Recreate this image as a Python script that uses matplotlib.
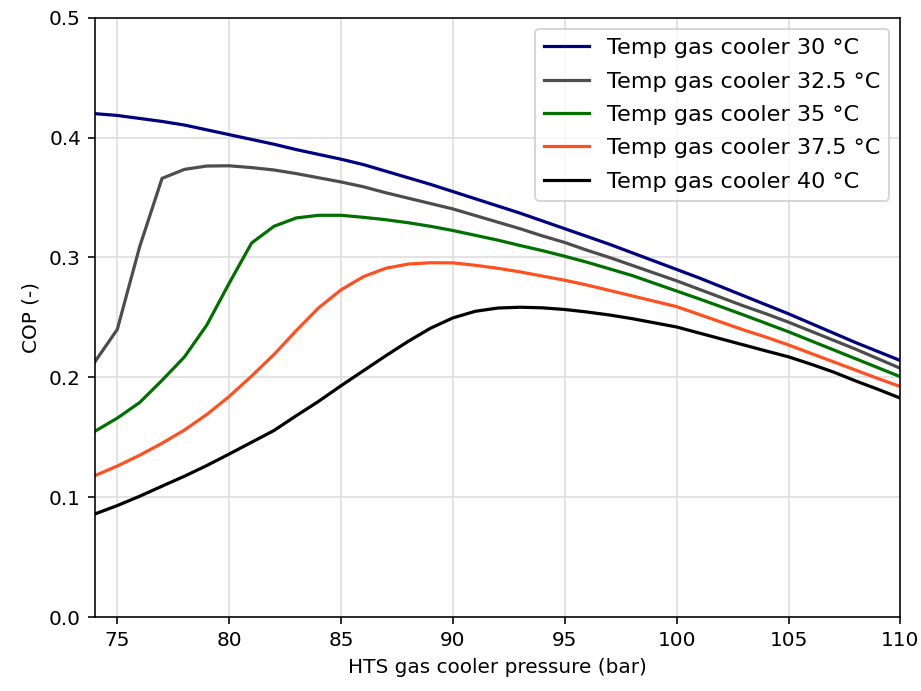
import matplotlib
matplotlib.use("Agg")
import matplotlib.pyplot as plt

pressure = list(range(74, 111))

cop_30 = [0.420, 0.4185, 0.416, 0.4135, 0.4105, 0.4065, 0.4025, 0.3985, 0.3945, 0.390,
          0.386, 0.382, 0.3775, 0.372, 0.3665, 0.361, 0.355, 0.349, 0.343, 0.337,
          0.3305, 0.324, 0.3175, 0.311, 0.304, 0.297, 0.290, 0.283, 0.2755, 0.268,
          0.2605, 0.253, 0.245, 0.237, 0.229, 0.2215, 0.214]
cop_325 = [0.213, 0.240, 0.309, 0.366, 0.3735, 0.3763, 0.3765, 0.375, 0.373, 0.370,
           0.3665, 0.363, 0.359, 0.354, 0.3495, 0.345, 0.3405, 0.335, 0.3295, 0.324,
           0.318, 0.3125, 0.306, 0.300, 0.2935, 0.287, 0.2805, 0.2735, 0.2665, 0.2595,
           0.253, 0.246, 0.2385, 0.231, 0.2235, 0.2155, 0.2075]
cop_35 = [0.155, 0.166, 0.179, 0.1975, 0.217, 0.2436, 0.2785, 0.312, 0.326, 0.333,
          0.3352, 0.3352, 0.3335, 0.3315, 0.329, 0.326, 0.3225, 0.3185, 0.3145, 0.310,
          0.3057, 0.301, 0.296, 0.2905, 0.285, 0.2785, 0.272, 0.2655, 0.2588, 0.252,
          0.245, 0.238, 0.2305, 0.223, 0.2155, 0.208, 0.2005]
cop_375 = [0.118, 0.126, 0.135, 0.145, 0.156, 0.169, 0.184, 0.201, 0.219, 0.239,
           0.258, 0.273, 0.284, 0.291, 0.2945, 0.2956, 0.2955, 0.2935, 0.291, 0.288,
           0.2845, 0.281, 0.277, 0.2725, 0.268, 0.2635, 0.259, 0.2525, 0.246, 0.2395,
           0.2335, 0.227, 0.220, 0.213, 0.206, 0.199, 0.1923]
cop_40 = [0.086, 0.093, 0.1008, 0.1092, 0.1175, 0.1264, 0.136, 0.1458, 0.1556, 0.168,
          0.180, 0.193, 0.2055, 0.218, 0.230, 0.241, 0.2496, 0.2551, 0.2578, 0.2585,
          0.258, 0.2566, 0.2545, 0.252, 0.249, 0.2455, 0.242, 0.237, 0.232, 0.227,
          0.222, 0.2171, 0.211, 0.2045, 0.197, 0.190, 0.1826]

labels = ["Temp gas cooler 30 °C", "Temp gas cooler 32.5 °C", "Temp gas cooler 35 °C",
          "Temp gas cooler 37.5 °C", "Temp gas cooler 40 °C"]
colors = ["navy", "#4d4d4d", "#007000", "#ff5020", "black"]

fig, ax = plt.subplots(figsize=(6.4, 4.8), dpi=144)
fig.subplots_adjust(left=0.103, right=0.977, top=0.974, bottom=0.107)

for series, lab, col in zip([cop_30, cop_325, cop_35, cop_375, cop_40], labels, colors):
    ax.plot(pressure, series, color=col, linewidth=1.6, label=lab)

ax.set_xlim(74, 110)
ax.set_ylim(0, 0.5)
ax.set_xticks([75, 80, 85, 90, 95, 100, 105, 110])
ax.set_yticks([0.0, 0.1, 0.2, 0.3, 0.4, 0.5])
ax.grid(True, color="#dcdcdc", linewidth=1.0, alpha=0.8)
ax.set_xlabel("HTS gas cooler pressure (bar)")
ax.set_ylabel("COP (-)")
ax.legend(loc="upper right", fontsize=11.2, labelspacing=0.6)

fig.savefig("out.png", dpi=144)
